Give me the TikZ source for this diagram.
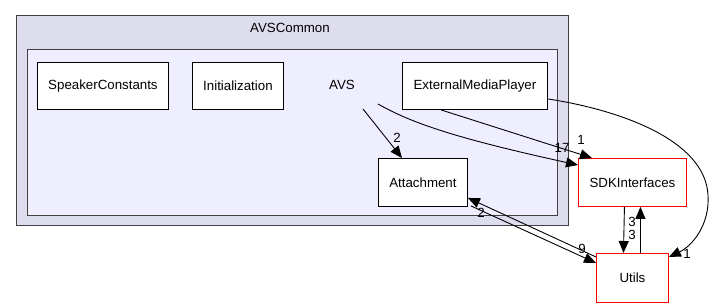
\documentclass[tikz,border=0pt]{standalone}
\usepackage{fontspec}
\setmainfont{Liberation Sans}
\usetikzlibrary{arrows.meta}
\definecolor{outerfill}{HTML}{DDDDEE}
\definecolor{innerfill}{HTML}{EEEEFF}
\definecolor{clusterline}{HTML}{404040}
\begin{document}
\begin{tikzpicture}[x=1pt,y=-1pt,
  every node/.style={font=\fontsize{13.3}{16}\selectfont, inner sep=0pt},
  dirbox/.style={draw=black, fill=white, line width=0.9pt, minimum height=47pt, anchor=north west},
  extbox/.style={draw=red, fill=white, line width=0.9pt, minimum height=48pt, anchor=north west},
  dep/.style={draw=black, line width=0.9pt, -{Triangle[length=12pt,width=10pt]}},
  count/.style={font=\fontsize{13.3}{16}\selectfont}]
\useasboundingbox (0,0) rectangle (715,307);
% package clusters
\filldraw[fill=outerfill, draw=clusterline, line width=1pt] (16,16) rectangle (568,226);
\node (title) at (290,28) {AVSCommon};
\filldraw[fill=innerfill, draw=clusterline, line width=1pt] (27,50) rectangle (557,216);
% directories
\node[dirbox, minimum width=131pt] (spk) at (37,62) {SpeakerConstants};
\node[dirbox, minimum width=91pt] (init) at (192,62) {Initialization};
\node (avs) at (342,85) {AVS};
\node[dirbox, minimum width=145pt] (emp) at (402,62) {ExternalMediaPlayer};
\node[dirbox, minimum width=89pt, minimum height=48pt] (att) at (378,158) {Attachment};
\node[extbox, minimum width=108pt] (sdk) at (578,158) {SDKInterfaces};
\node[extbox, minimum width=72pt, minimum height=49pt] (utl) at (596,253) {Utils};
% dependency edges
\draw[dep] ([shift={(21,24)}]avs.center) -- ([xshift=24pt]att.north west);
\node[count] (c1) at (397,138) {2};
\draw[dep] ([shift={(36,19)}]avs.center) .. controls (410,122) and (450,137) .. ([shift={(0,7)}]sdk.north west);
\node[count] (c2) at (562,148) {17};
\draw[dep] ([xshift=-34pt]emp.south) -- ([xshift=14pt]sdk.north west);
\node[count] (c3) at (581,140) {1};
\draw[dep] ([shift={(0,13)}]emp.east) .. controls (620,110) and (705,140) .. (708,195)
  .. controls (710,225) and (692,246) .. ([shift={(0,4)}]utl.north east);
\node[count] (c4) at (687,254) {1};
\draw[dep] ([xshift=-8pt]sdk.south) -- ([xshift=-9pt]utl.north);
\node[count] (c5) at (632,235) {3};
\draw[dep] ([xshift=8pt]utl.north) -- ([xshift=8pt]sdk.south);
\node[count] (c6) at (632,222) {3};
\draw[dep] ([shift={(3,-1)}]att.south east) -- ([shift={(0,10)}]utl.north west);
\node[count] (c7) at (582,249) {9};
\draw[dep] ([shift={(0,4)}]utl.north west) -- ([shift={(0,-9)}]att.south east);
\node[count] (c8) at (481,213) {2};
\end{tikzpicture}
\end{document}
